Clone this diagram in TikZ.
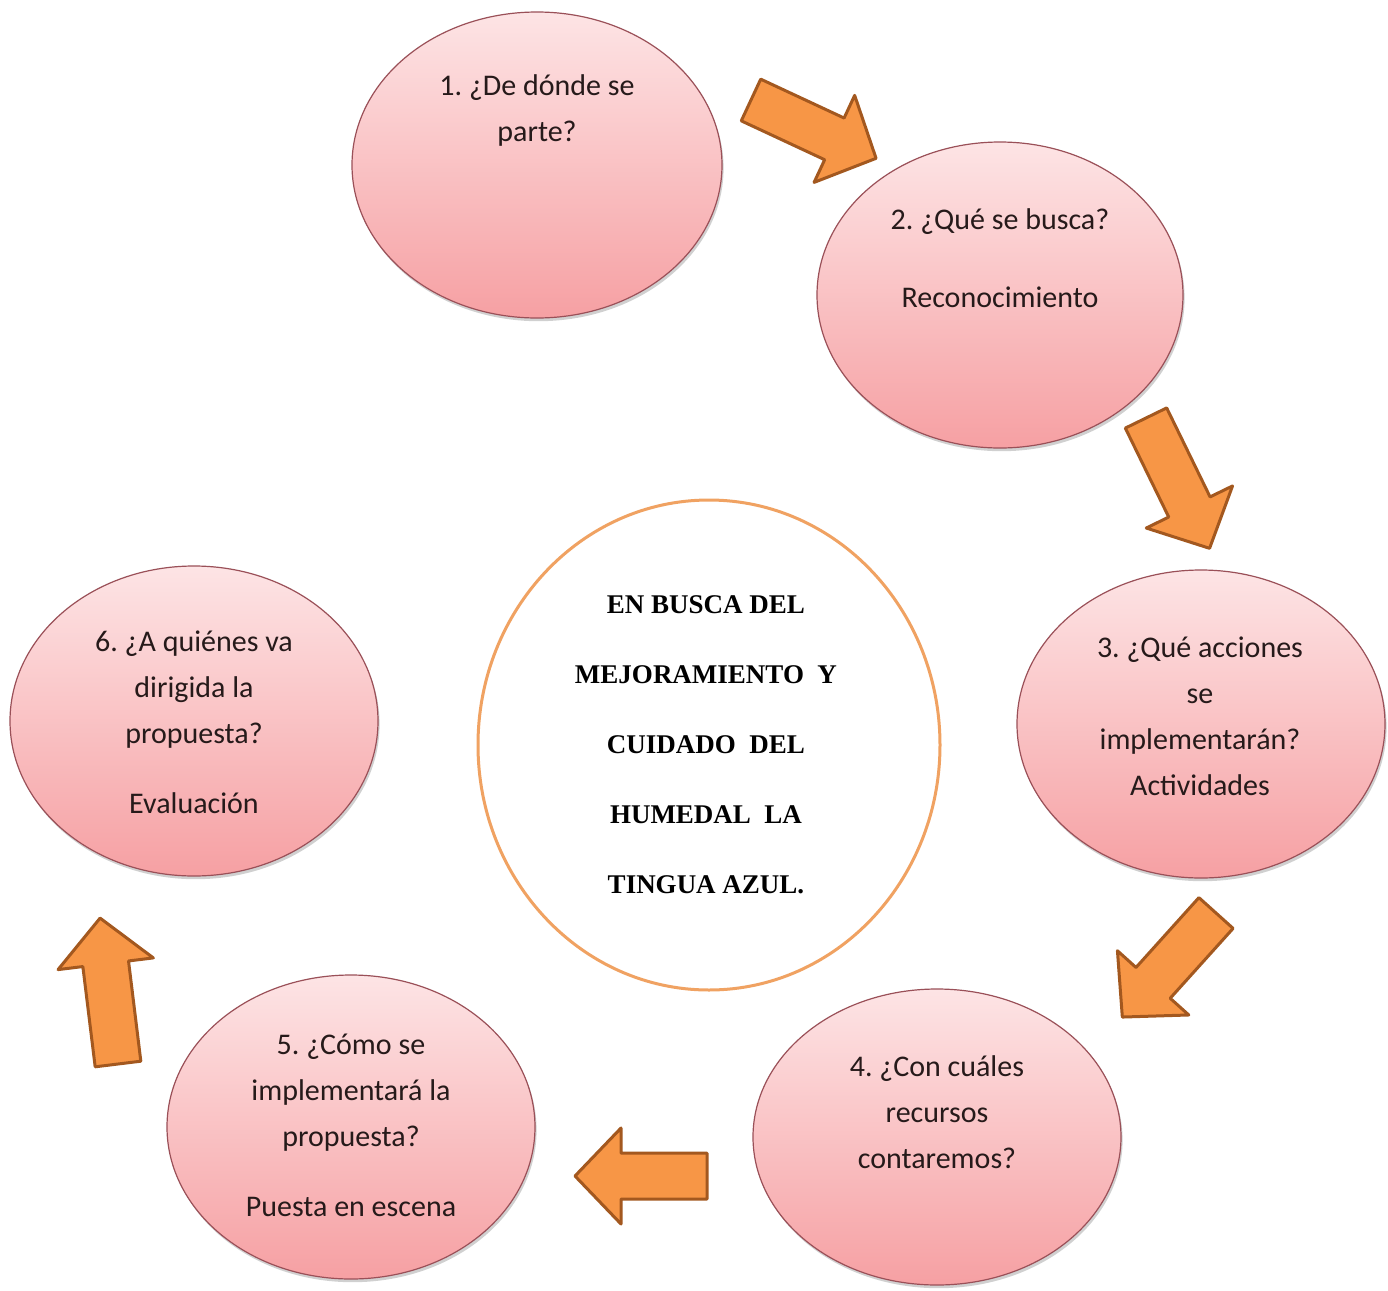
\documentclass[tikz,border=0pt]{standalone}
\usepackage{fontspec}
\setmainfont{Carlito}
\newfontfamily\titlefont{Liberation Serif}
\usetikzlibrary{shapes.geometric,shadows}
\definecolor{pinktop}{HTML}{FDE4E5}
\definecolor{pinkbot}{HTML}{F6A0A3}
\definecolor{pinkline}{HTML}{9A5058}
\definecolor{arrfill}{HTML}{F79646}
\definecolor{arrline}{HTML}{A3581F}
\definecolor{ringcol}{HTML}{F0A262}
\definecolor{txtcol}{HTML}{261A1A}
\tikzset{
  bubble/.style={ellipse, inner sep=0pt, draw=pinkline, line width=0.6pt,
    top color=pinktop, bottom color=pinkbot,
    drop shadow={shadow xshift=0.8pt, shadow yshift=-1.6pt, opacity=0.3, fill=black!60}},
  bubbletext/.style={align=center, text=txtcol, font=\frenchspacing\fontsize{15}{23}\selectfont},
  ring/.style={ellipse, inner sep=0pt, draw=ringcol, line width=1.5pt, fill=white},
  ringtext/.style={align=center, text=black, font=\frenchspacing\titlefont\bfseries\fontsize{13.5}{35}\selectfont},
  blockarrow/.style={fill=arrfill, draw=arrline, line width=1.5pt, line join=round}
}
\newcommand\blockarr[4]{%
  \draw[blockarrow, shift={(#1,#2)}, rotate=-#3]
    (0,-23) -- ({#4-46},-23) -- ({#4-46},-48) -- (#4,0) -- ({#4-46},48) -- ({#4-46},23) -- (0,23) -- cycle;}
\begin{document}
\begin{tikzpicture}[x=0.5pt,y=-0.5pt]
\useasboundingbox[fill=white] (0,0) rectangle (1388,1291);
% bubbles
\node[bubble, minimum width=185pt, minimum height=153pt] (b1) at (537,165) {};
\node[bubble, minimum width=183pt, minimum height=153pt] (b2) at (1000,295) {};
\node[bubble, minimum width=184pt, minimum height=154pt] (b3) at (1201,724) {};
\node[bubble, minimum width=184pt, minimum height=148pt] (b4) at (937,1137) {};
\node[bubble, minimum width=184pt, minimum height=152pt] (b5) at (351,1127) {};
\node[bubble, minimum width=184pt, minimum height=155pt] (b6) at (194,721) {};
% center ring
\node[ring, minimum width=231pt, minimum height=245pt] (c) at (709,745) {};
% texts
\node[bubbletext] (t1) at (537,110) {1. ¿De dónde se\\parte?};
\node[bubbletext] (t2) at (1000,258) {2. ¿Qué se busca?\\[16pt]Reconocimiento};
\node[bubbletext] (t3) at (1200,716) {3. ¿Qué acciones\\se\\implementarán?\\Actividades};
\node[bubbletext] (t4) at (937,1112) {4. ¿Con cuáles\\recursos\\contaremos?};
\node[bubbletext] (t5) at (351,1125) {5. ¿Cómo se\\implementará la\\propuesta?\\[12pt]Puesta en escena};
\node[bubbletext] (t6) at (194,722) {6. ¿A quiénes va\\dirigida la\\propuesta?\\[12pt]Evaluación};
\node[ringtext] (ct) at (706,745) {EN BUSCA DEL\\MEJORAMIENTO\ \ Y\\CUIDADO\ \ DEL\\HUMEDAL\ \ LA\\TINGUA AZUL.};
% block arrows
\blockarr{751}{100}{25}{138}
\blockarr{1146}{418}{64}{145}
\blockarr{1216}{913}{132}{140}
\blockarr{707}{1176}{180}{132}
\blockarr{118}{1064}{-97}{147}
\end{tikzpicture}
\end{document}
